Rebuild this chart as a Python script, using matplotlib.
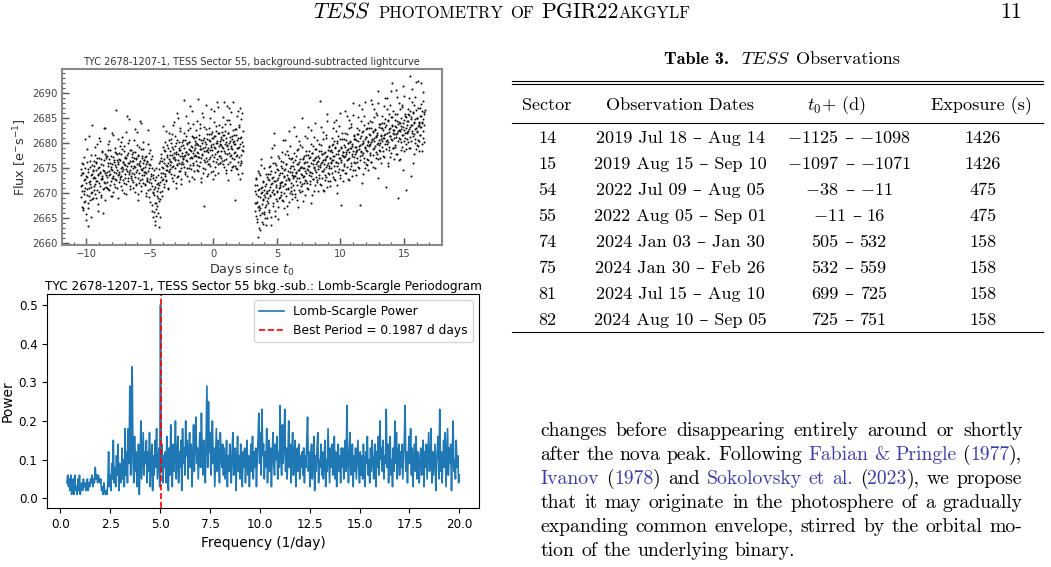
import re
import numpy as np
import matplotlib
matplotlib.use('Agg')
import matplotlib.pyplot as plt
import matplotlib.transforms as mtransforms
from matplotlib.lines import Line2D
from matplotlib.ticker import MultipleLocator

W, H = 1051, 567
plt.rcParams['mathtext.fontset'] = 'dejavusans'

### data ###

# lightcurve, flux - 2600 (e-/s), two orbits of sector 55
# each orbit is read as two interleaved sets (a, b), ~30 points per day each
flux_offset = 2600.0
lc1a_span = (-10.45, 2.30)
lc1a_flux = [
    71.4, 74.8, 67.2, 70.3, 73.9, 66.5, 75.7, 69.8, 72.6, 80.8, 68.4, 71.0, 64.6, 73.3, 76.1, 70.7, 67.9, 74.2, 63.4, 72.1, 69.3, 75.2, 71.8, 77.6, 70.0, 73.5, 68.8, 83.6, 74.6, 72.9,
    70.6, 76.3, 73.1, 79.2, 71.7, 74.5, 68.9, 75.9, 72.4, 77.0, 66.3, 73.7, 75.1, 70.2, 81.0, 74.0, 71.3, 76.8, 69.5, 73.0, 78.4, 72.8, 65.9, 75.5, 70.9, 74.3, 77.7, 72.0, 83.0, 73.6,
    76.9, 72.2, 74.1, 78.6, 70.8, 75.4, 73.5, 80.3, 71.6, 76.0, 74.7, 69.4, 77.3, 72.9, 75.8, 81.5, 73.3, 70.1, 76.5, 74.2, 78.1, 71.2, 75.1, 86.5, 72.6, 77.8, 74.5, 69.0, 76.2, 73.7,
    74.1, 77.9, 72.7, 76.6, 80.1, 73.4, 75.2, 70.6, 78.7, 74.8, 76.1, 71.9, 79.3, 75.6, 73.0, 77.2, 69.7, 76.9, 74.4, 85.4, 72.3, 78.0, 75.9, 73.8, 80.6, 71.4, 76.4, 74.6, 78.5, 72.9,
    76.3, 72.5, 78.2, 74.9, 70.9, 77.0, 75.4, 82.7, 73.2, 76.7, 71.6, 74.1, 79.5, 75.7, 68.6, 77.6, 73.9, 76.0, 72.0, 84.3, 75.3, 70.4, 78.8, 74.6, 77.3, 72.7, 75.0, 80.2, 73.5, 76.5,
    74.2, 77.1, 71.5, 75.8, 69.3, 73.0, 76.4, 72.3, 82.6, 70.6, 74.9, 78.0, 72.7, 68.2, 75.5, 71.9, 73.7, 66.4, 77.4, 70.1, 72.9, 65.1, 69.6, 74.5, 63.6, 71.2, 68.0, 75.0, 66.8, 70.4,
    67.3, 72.0, 69.0, 74.8, 63.2, 71.6, 76.3, 68.7, 73.2, 77.8, 70.3, 75.1, 72.6, 83.4, 74.0, 78.5, 71.1, 76.7, 73.8, 80.2, 75.6, 72.4, 77.2, 74.6, 79.6, 70.8, 76.0, 81.9, 74.3, 77.5,
    78.4, 74.7, 80.8, 76.2, 72.9, 79.1, 77.0, 83.5, 75.3, 78.0, 73.6, 76.8, 81.4, 77.7, 70.9, 79.9, 75.8, 86.0, 76.5, 73.3, 78.6, 80.2, 74.4, 77.3, 82.3, 75.0, 79.4, 71.8, 77.9, 76.1,
    76.9, 80.6, 75.2, 79.0, 88.6, 77.5, 73.7, 81.3, 78.2, 74.9, 79.7, 76.4, 84.0, 77.8, 72.4, 80.1, 78.6, 75.6, 82.9, 77.1, 79.4, 73.1, 86.3, 78.0, 75.9, 81.1, 77.4, 74.3, 80.4, 78.9,
    80.0, 76.4, 82.5, 78.1, 74.6, 79.5, 88.8, 77.2, 81.6, 75.3, 78.8, 83.7, 76.9, 72.1, 80.5, 77.6, 79.9, 74.0, 85.1, 78.3, 67.3, 81.0, 76.1, 79.2, 82.8, 77.0, 73.4, 80.7, 78.5, 75.8,
    78.2, 81.8, 75.7, 80.3, 77.1, 84.9, 79.6, 74.2, 82.2, 78.6, 76.3, 80.9, 72.8, 79.1, 86.4, 77.8, 81.3, 75.1, 79.9, 83.3, 76.7, 80.4, 73.9, 78.3, 87.1, 77.4, 82.0, 75.9, 79.7, 81.1,
    80.8, 77.0, 83.2, 79.1, 75.8, 81.5, 78.3, 88.1, 76.6, 82.4, 79.8, 74.5, 80.9, 77.7, 84.6, 79.3, 72.6, 81.9, 78.0, 86.9, 76.2, 80.4, 83.7, 77.5, 79.0, 75.1, 81.4, 78.7, 88.2, 80.1,
    78.0, 81.6, 75.4, 79.8, 68.6, 82.7, 77.3, 80.5, 74.7, 86.3, 78.9, 76.1, 83.5, 79.2, 72.8, 81.0, 77.6, 84.8, 75.9, 80.1, 86.0, 78.4,
]
lc1b_span = (-10.43, 2.32)
lc1b_flux = [
    73.6, 69.1, 75.9, 71.5, 66.9, 74.0, 70.4, 77.2, 68.1, 72.8, 75.0, 65.8, 71.9, 78.8, 69.6, 73.2, 67.0, 74.7, 70.9, 81.3, 72.3, 68.6, 76.4, 71.1, 65.2, 73.8, 70.2, 75.6, 69.0, 74.4,
    75.3, 71.4, 77.6, 73.0, 69.7, 76.2, 72.3, 79.8, 70.6, 74.9, 67.8, 73.5, 76.9, 71.9, 74.2, 80.3, 72.7, 69.1, 75.7, 73.3, 78.1, 70.8, 74.6, 82.9, 72.1, 76.5, 68.5, 74.0, 71.2, 77.3,
    73.2, 77.4, 71.0, 75.9, 79.7, 74.3, 70.5, 76.8, 73.7, 78.5, 72.4, 75.2, 81.9, 74.6, 69.3, 77.1, 73.0, 76.2, 71.7, 79.0, 75.5, 72.8, 77.9, 74.0, 70.9, 76.6, 80.8, 73.5, 75.8, 72.1,
    76.8, 73.1, 79.4, 75.0, 71.3, 77.7, 74.4, 81.1, 72.6, 76.2, 70.0, 75.7, 78.3, 73.8, 76.9, 82.2, 74.7, 71.8, 77.5, 75.3, 79.9, 72.9, 76.0, 84.8, 74.1, 78.6, 70.7, 75.4, 73.4, 77.2,
    74.0, 77.8, 72.2, 76.4, 80.6, 73.7, 70.2, 78.1, 75.1, 71.7, 76.9, 74.5, 82.1, 73.0, 77.4, 69.8, 75.6, 79.2, 72.6, 76.3, 74.8, 83.9, 71.3, 77.0, 73.5, 75.9, 78.7, 72.0, 76.6, 74.2,
    75.1, 71.8, 77.3, 73.9, 70.0, 76.2, 72.6, 79.8, 74.4, 69.2, 75.7, 72.1, 78.5, 70.8, 73.3, 76.8, 67.5, 74.9, 71.4, 69.9, 73.6, 66.2, 70.7, 64.4, 72.5, 67.9, 65.3, 73.1, 69.4, 71.7,
    70.9, 66.0, 73.5, 68.3, 75.9, 65.1, 72.2, 70.1, 77.0, 73.9, 69.4, 76.3, 72.8, 74.9, 79.2, 71.7, 76.0, 73.3, 78.4, 74.6, 82.3, 72.5, 77.6, 75.4, 71.0, 78.9, 74.1, 76.8, 80.6, 75.6,
    76.3, 79.9, 73.8, 77.6, 81.7, 75.2, 78.8, 72.4, 77.1, 84.2, 74.9, 79.3, 76.6, 71.9, 78.2, 75.5, 80.5, 73.2, 77.8, 85.0, 76.0, 79.0, 74.3, 78.5, 82.9, 75.8, 72.8, 77.4, 80.2, 76.7,
    79.5, 75.8, 81.9, 77.3, 74.1, 80.6, 78.1, 85.3, 76.5, 79.9, 73.3, 77.7, 82.6, 78.8, 75.0, 80.2, 76.9, 87.4, 78.4, 74.7, 81.4, 77.0, 79.1, 83.8, 75.6, 78.6, 72.7, 80.9, 77.5, 79.6,
    77.4, 81.2, 75.6, 79.7, 84.4, 78.0, 74.3, 80.8, 77.2, 82.9, 76.1, 79.3, 73.0, 78.7, 86.0, 77.8, 80.5, 75.0, 79.0, 83.2, 76.6, 80.1, 74.7, 78.3, 87.6, 79.8, 76.4, 81.7, 73.8, 78.9,
    80.6, 76.8, 83.0, 78.5, 75.3, 81.7, 79.2, 86.7, 77.6, 80.9, 74.4, 79.8, 84.1, 77.1, 81.3, 73.6, 78.9, 82.4, 76.2, 80.0, 88.2, 78.1, 75.7, 81.9, 79.4, 83.6, 77.3, 80.3, 76.0, 79.6,
    78.3, 82.1, 76.4, 80.6, 85.2, 79.0, 75.1, 81.5, 77.9, 83.7, 76.8, 80.2, 73.9, 79.6, 87.3, 78.7, 81.9, 75.8, 80.0, 84.6, 77.4, 81.1, 74.6, 79.3, 86.2, 80.7, 77.0, 82.5, 75.3, 79.8,
    80.4, 76.7, 82.8, 78.2, 74.9, 81.5, 77.6, 85.4, 79.0, 73.8, 80.9, 77.2, 83.1, 75.6, 79.7, 87.0, 76.3, 81.2, 78.5, 74.0, 82.4, 79.3,
]
lc2a_span = (3.25, 16.60)
lc2a_flux = [
    67.9, 71.6, 65.3, 69.8, 72.7, 64.7, 68.2, 61.1, 70.5, 66.6, 73.9, 67.4, 69.1, 62.6, 71.0, 76.8, 66.0, 70.2, 64.2, 68.7, 72.2, 65.7, 69.6, 74.9, 67.1, 71.3, 63.5, 70.0, 68.4, 73.1,
    70.4, 73.8, 68.0, 72.6, 66.1, 71.1, 75.4, 69.3, 74.3, 63.6, 71.9, 78.9, 70.6, 67.4, 73.2, 82.0, 69.8, 72.3, 65.4, 76.0, 71.5, 68.7, 74.7, 70.1, 64.8, 72.9, 77.4, 69.0, 73.5, 71.2,
    73.9, 70.2, 76.4, 72.1, 68.5, 75.0, 71.4, 80.5, 73.3, 66.9, 74.6, 77.7, 71.8, 69.4, 75.8, 72.5, 65.7, 78.4, 73.0, 70.8, 76.9, 72.8, 68.1, 74.2, 79.3, 71.1, 75.3, 73.6, 69.8, 77.0,
    72.9, 76.2, 70.6, 74.8, 83.1, 73.4, 69.2, 77.4, 74.1, 71.5, 78.6, 73.0, 75.7, 67.1, 74.5, 80.3, 72.2, 76.8, 70.1, 75.2, 73.7, 79.1, 71.8, 74.9, 68.4, 77.0, 73.3, 75.9, 81.4, 72.6,
    76.1, 72.4, 78.3, 74.7, 70.9, 77.5, 75.3, 83.2, 73.6, 76.9, 71.7, 74.2, 79.8, 75.9, 68.0, 77.9, 74.0, 76.6, 72.8, 81.2, 75.1, 70.4, 78.7, 74.5, 77.2, 73.1, 75.7, 80.5, 72.1, 76.4,
    74.8, 78.4, 73.0, 76.9, 88.3, 75.5, 71.6, 79.5, 76.2, 72.9, 77.7, 74.4, 82.1, 75.8, 70.3, 78.1, 76.6, 73.6, 80.9, 75.1, 77.4, 71.1, 84.4, 76.0, 73.9, 79.1, 75.4, 72.3, 78.4, 76.9,
    78.6, 74.9, 81.0, 76.6, 73.1, 79.7, 77.3, 84.1, 75.4, 78.9, 72.5, 76.1, 82.4, 77.7, 70.0, 80.3, 75.9, 78.4, 74.2, 83.3, 77.0, 72.9, 80.8, 76.5, 79.2, 67.5, 77.6, 82.0, 74.6, 78.2,
    77.1, 80.7, 75.3, 79.2, 86.3, 77.8, 73.9, 81.8, 78.5, 75.2, 80.0, 76.7, 84.5, 78.1, 72.6, 80.4, 78.9, 75.9, 83.2, 77.4, 79.7, 73.4, 85.6, 78.3, 76.2, 81.4, 77.7, 74.6, 80.7, 79.2,
    80.6, 76.9, 83.0, 78.6, 75.1, 81.7, 79.3, 87.6, 77.4, 80.9, 67.5, 78.1, 84.4, 79.7, 72.0, 82.3, 77.9, 80.4, 76.2, 85.3, 79.0, 74.9, 82.8, 78.5, 81.2, 75.5, 79.6, 84.0, 76.6, 80.2,
    79.4, 83.0, 77.6, 81.5, 88.6, 80.1, 76.2, 84.1, 80.8, 77.5, 82.3, 79.0, 86.8, 80.4, 74.9, 82.7, 81.2, 78.2, 85.5, 79.7, 82.0, 72.9, 87.9, 80.6, 78.5, 83.7, 80.0, 76.9, 83.0, 81.5,
    82.9, 79.2, 85.3, 80.9, 77.4, 84.0, 81.6, 89.0, 79.7, 83.2, 71.1, 80.4, 86.7, 82.0, 75.3, 84.6, 80.2, 82.7, 78.5, 87.6, 81.3, 77.2, 85.1, 80.8, 83.5, 91.9, 81.9, 86.3, 78.9, 82.5,
    81.0, 84.6, 79.2, 83.1, 90.6, 81.7, 77.8, 85.7, 82.4, 69.0, 84.2, 80.9, 88.0, 82.3, 76.8, 84.9, 83.4, 80.1, 87.2, 81.6, 83.9, 74.6, 89.3, 82.6, 80.4, 85.8, 82.0, 78.7, 85.1, 83.5,
    84.4, 80.7, 86.8, 82.4, 78.9, 85.5, 83.1, 93.3, 81.2, 84.7, 73.4, 81.9, 88.2, 83.5, 76.0, 86.1, 81.7, 84.2, 80.0, 89.1, 82.8, 78.7, 86.6, 82.3, 85.0, 79.3, 83.4, 92.3, 80.4, 84.0,
    83.2, 86.9, 81.5, 85.4, 91.9, 84.1, 78.4, 88.4, 84.7, 81.0, 86.2, 83.6,
]
lc2b_span = (3.27, 16.62)
lc2b_flux = [
    70.3, 66.4, 72.9, 68.0, 64.1, 71.5, 67.2, 74.3, 69.4, 62.9, 70.8, 66.9, 73.5, 65.5, 69.9, 75.6, 67.8, 71.2, 63.8, 68.5, 72.4, 66.1, 70.6, 64.9, 69.2, 73.8, 67.5, 71.7, 65.0, 70.0,
    72.8, 68.9, 75.2, 70.5, 66.6, 73.7, 69.5, 77.1, 71.8, 65.2, 73.0, 70.1, 76.0, 67.9, 72.3, 79.6, 69.7, 74.1, 66.3, 71.2, 75.5, 68.4, 72.6, 70.3, 67.1, 74.6, 71.0, 76.9, 69.2, 72.0,
    71.5, 75.3, 69.6, 73.9, 78.2, 72.2, 68.4, 76.1, 73.1, 70.0, 74.8, 71.8, 80.6, 70.7, 75.7, 67.4, 73.6, 77.5, 71.0, 74.3, 72.6, 82.3, 69.9, 75.0, 72.0, 76.7, 70.4, 74.1, 68.8, 73.4,
    75.4, 71.6, 77.9, 73.3, 69.8, 76.5, 74.0, 81.3, 72.4, 75.8, 68.6, 74.6, 78.8, 72.9, 76.1, 70.6, 74.9, 79.6, 71.3, 75.2, 73.6, 84.9, 70.4, 76.7, 73.1, 77.4, 71.9, 75.0, 69.5, 74.3,
    73.9, 77.6, 72.0, 76.2, 80.9, 74.6, 70.8, 78.3, 75.4, 72.3, 77.1, 74.2, 82.6, 73.3, 77.9, 69.6, 75.8, 79.4, 72.7, 76.6, 74.9, 84.0, 71.5, 76.9, 74.1, 78.8, 72.5, 76.1, 70.3, 75.4,
    77.3, 73.5, 79.8, 75.2, 71.7, 78.4, 76.0, 83.2, 74.3, 77.7, 70.6, 76.5, 80.7, 74.8, 78.0, 72.5, 76.8, 81.5, 73.2, 77.1, 75.5, 85.8, 72.3, 78.6, 75.0, 79.3, 73.8, 76.9, 71.4, 76.2,
    75.9, 79.6, 74.0, 78.2, 82.9, 76.6, 72.8, 80.3, 77.4, 74.3, 79.1, 76.2, 84.6, 75.3, 79.9, 71.6, 77.8, 81.4, 74.7, 78.6, 76.9, 86.0, 73.5, 78.9, 76.1, 80.8, 74.5, 78.1, 72.3, 77.4,
    79.5, 75.7, 82.0, 77.4, 73.9, 80.6, 78.2, 85.4, 76.5, 79.9, 72.8, 78.7, 82.9, 77.0, 80.2, 74.7, 79.0, 83.7, 75.4, 79.3, 77.7, 88.0, 74.5, 80.8, 77.2, 81.5, 76.0, 79.1, 73.6, 78.4,
    78.1, 81.8, 76.2, 80.4, 85.1, 78.8, 75.0, 82.5, 79.6, 76.5, 81.3, 78.4, 86.8, 77.5, 82.1, 73.8, 80.0, 83.6, 76.9, 80.8, 79.1, 88.2, 75.7, 81.1, 78.3, 83.0, 76.7, 80.3, 74.5, 79.6,
    81.8, 78.0, 84.3, 79.7, 76.2, 82.9, 80.5, 87.7, 78.8, 82.2, 75.1, 81.0, 85.2, 79.3, 82.5, 77.0, 81.3, 86.0, 77.7, 81.6, 80.0, 90.3, 76.8, 83.1, 79.5, 83.8, 78.3, 81.4, 75.9, 80.7,
    80.3, 84.0, 78.4, 82.6, 87.3, 81.0, 77.2, 84.7, 81.8, 78.7, 83.5, 80.6, 89.0, 79.7, 84.3, 76.0, 82.2, 85.8, 79.1, 83.0, 81.3, 90.4, 77.9, 83.3, 80.5, 85.2, 78.9, 82.5, 76.7, 81.8,
    83.3, 79.5, 85.8, 81.2, 77.7, 84.4, 82.0, 89.2, 80.3, 83.7, 76.6, 82.5, 86.7, 80.8, 84.0, 78.5, 82.8, 87.5, 79.2, 83.1, 81.5, 91.4, 78.3, 84.6, 81.0, 85.3, 79.8, 82.9, 70.5, 82.2,
    82.0, 85.7, 80.1, 84.3, 89.0, 82.7, 78.9, 86.4, 83.5, 80.4, 85.2, 82.3, 90.7, 81.4, 86.0, 77.7, 83.9, 87.6, 80.8, 84.7, 83.0, 92.2, 79.6, 85.0, 82.2, 86.9, 80.6, 84.1, 78.4, 83.6,
    85.3, 81.5, 87.8, 83.2, 79.7, 86.4, 84.0, 90.1, 82.3, 85.7, 80.2, 86.5,
]

# Lomb-Scargle power (x100) on an even frequency grid
freq_range = (0.33, 20.0)
power_pct = [
    4, 6, 3, 5, 2, 6, 1, 4, 5, 1, 6, 2, 3, 1, 5, 2, 6, 1, 3, 4, 2, 5, 3, 4, 2,
    3, 5, 2, 4, 3, 5, 4, 6, 3, 5, 4, 8, 5, 6, 4, 6, 5, 4, 5, 2, 3, 1, 4, 2, 1,
    2, 1, 4, 12, 3, 6, 2, 9, 5, 15, 4, 8, 3, 11, 6, 14, 2, 9, 7, 4, 13, 5, 10, 3, 18,
    6, 12, 4, 18, 9, 29, 6, 13, 34, 10, 4, 16, 7, 12, 3, 9, 14, 1, 8, 20, 5, 11, 17, 6, 12,
    9, 15, 4, 12, 7, 17, 3, 10, 14, 2, 11, 6, 15, 8, 18, 5, 9, 13, 3, 50, 7, 14, 4, 11, 8,
    12, 4, 16, 8, 2, 13, 6, 19, 9, 3, 14, 7, 11, 20, 5, 10, 16, 4, 12, 8, 15, 2, 18, 9, 13,
    6, 20, 11, 15, 5, 12, 17, 8, 14, 3, 10, 19, 7, 16, 21, 9, 13, 5, 11, 17, 8, 22, 12, 6, 15,
    10, 4, 16, 29, 8, 25, 12, 17, 6, 14, 20, 9, 13, 3, 11, 18, 7, 15, 10, 4, 17, 12, 8, 14, 6,
    13, 5, 9, 15, 3, 11, 7, 14, 10, 4, 12, 17, 6, 9, 13, 2, 10, 16, 7, 11, 5, 14, 8, 3, 12,
    8, 13, 4, 10, 15, 6, 11, 3, 9, 14, 7, 16, 5, 12, 8, 13, 3, 10, 15, 22, 9, 17, 6, 23, 11,
    14, 5, 12, 8, 18, 4, 10, 15, 7, 13, 3, 11, 17, 9, 6, 14, 10, 16, 5, 12, 8, 24, 11, 6, 19,
    9, 15, 23, 7, 13, 5, 11, 20, 8, 14, 4, 12, 17, 6, 10, 15, 3, 9, 13, 7, 14, 5, 11, 8, 12,
    6, 13, 4, 11, 8, 15, 21, 7, 12, 3, 10, 14, 5, 9, 16, 2, 11, 7, 13, 17, 4, 10, 8, 14, 6,
    12, 5, 9, 15, 3, 10, 7, 18, 11, 4, 13, 8, 14, 6, 10, 16, 5, 12, 3, 9, 14, 7, 11, 4, 13,
    8, 13, 5, 11, 15, 7, 24, 10, 4, 12, 17, 6, 9, 14, 3, 11, 7, 13, 5, 10, 15, 8, 4, 12, 6,
    11, 5, 14, 8, 3, 12, 9, 16, 6, 10, 4, 13, 7, 15, 11, 5, 9, 14, 3, 12, 8, 16, 6, 20, 10,
    13, 7, 15, 5, 11, 9, 23, 8, 14, 4, 12, 16, 6, 10, 3, 13, 7, 20, 9, 17, 5, 11, 14, 6, 12,
    8, 14, 5, 10, 15, 24, 7, 12, 4, 11, 16, 9, 18, 6, 13, 3, 10, 14, 7, 16, 5, 12, 9, 4, 11,
    13, 6, 10, 15, 3, 12, 8, 14, 5, 11, 17, 7, 9, 18, 4, 12, 6, 10, 14, 2, 9, 13, 16, 5, 23,
    7, 12, 4, 10, 15, 8, 17, 3, 11, 18, 6, 13, 9, 14, 2, 12, 20, 7, 10, 5, 15, 8, 11, 4, 6,
]
best_period = 0.1987

# Table 3
tab_head = ['Sector', 'Observation Dates', '$t_0$+ (d)', 'Exposure (s)']
sectors = ['14', '15', '54', '55', '74', '75', '81', '82']
obs_dates = ['2019 Jul 18 – Aug 14', '2019 Aug 15 – Sep 10', '2022 Jul 09 – Aug 05',
             '2022 Aug 05 – Sep 01', '2024 Jan 03 – Jan 30', '2024 Jan 30 – Feb 26',
             '2024 Jul 15 – Aug 10', '2024 Aug 10 – Sep 05']
t0_start = [-1125, -1097, -38, -11, 505, 532, 699, 725]
t0_end = [-1098, -1071, -11, 16, 532, 559, 725, 751]
exposures = ['1426', '1426', '475', '475', '158', '158', '158', '158']

# body text, {...} = link colour
body_lines = [
    'changes before disappearing entirely around or shortly',
    'after the nova peak. Following {Fabian} {&} {Pringle} ({1977}),',
    '{Ivanov} ({1978}) and {Sokolovsky} {et} {al.} ({2023}), we propose',
    'that it may originate in the photosphere of a gradually',
    'expanding common envelope, stirred by the orbital mo-',
    'tion of the underlying binary.',
]

### figure ###

fig = plt.figure(figsize=(W / 100, H / 100), dpi=100)
renderer = fig.canvas.get_renderer()
ident = mtransforms.IdentityTransform()
SERIF = dict(family=['cmr10', 'DejaVu Serif'], math_fontfamily='cm')
LINK = '#3d3da8'


def box(l, t, r, b):
    return [l / W, 1 - b / H, (r - l) / W, (b - t) / H]


def px(x, y, s, **kw):
    return fig.text(x, H - y, s, transform=ident, **kw)


def wid(t):
    return t.get_window_extent(renderer).width


def run(x, y, pieces, center=False):
    # pieces: (text, kwargs) or (None, gap in px)
    arts, cx = [], x
    for s, kw in pieces:
        if s is None:
            cx += kw
            continue
        t = px(cx, y, s, va='baseline', ha='left', **kw)
        cx += wid(t)
        arts.append(t)
    if center:
        shift = (cx - x) / 2
        for t in arts:
            t.set_x(t.get_position()[0] - shift)
    return cx


def space(size):
    return 0.333 * size * 100 / 72


# ---- lightcurve ----
ax1 = fig.add_axes(box(61.7, 69, 441.7, 245))
for span, flux in ((lc1a_span, lc1a_flux), (lc1b_span, lc1b_flux),
                   (lc2a_span, lc2a_flux), (lc2b_span, lc2b_flux)):
    tt = np.linspace(span[0], span[1], len(flux))
    ax1.scatter(tt, np.array(flux) + flux_offset, s=2.2, c='#111111', linewidths=0)
ax1.set_xlim(-11.95, 17.97)
ax1.set_ylim(2659.5, 2694.8)
ax1.xaxis.set_major_locator(MultipleLocator(5))
ax1.xaxis.set_minor_locator(MultipleLocator(1))
ax1.yaxis.set_major_locator(MultipleLocator(5))
ax1.yaxis.set_minor_locator(MultipleLocator(1))
ax1.tick_params(which='both', direction='in', color='#555555', labelcolor='#444444',
                labelsize=7.2, pad=3, top=False, right=False)
ax1.tick_params(which='major', length=5, width=1)
ax1.tick_params(which='minor', length=2.5, width=0.8)
for sp in ax1.spines.values():
    sp.set_color('#8a8a8a')
    sp.set_linewidth(1.5)
ax1.set_title('TYC 2678-1207-1, TESS Sector 55, background-subtracted lightcurve',
              fontsize=7.0, color='#333333', pad=3)
ax1.set_xlabel('Days since $t_0$', fontsize=9.2, color='#333333', labelpad=1)
ax1.set_ylabel('Flux [e$^{-}$s$^{-1}$]', fontsize=9.2, color='#333333', labelpad=2)

# ---- periodogram ----
ax2 = fig.add_axes(box(47.3, 294, 479, 508))
freq = np.linspace(freq_range[0], freq_range[1], len(power_pct))
ax2.plot(freq, np.array(power_pct) / 100.0, color='tab:blue', lw=1.2,
         label='Lomb-Scargle Power')
ax2.axvline(1.0 / best_period, color='r', ls='--', lw=1.2,
            label='Best Period = %.4f d days' % best_period)
ax2.set_ylim(-0.025, 0.528)
ax2.set_xticks(np.arange(0, 20.1, 2.5))
ax2.tick_params(labelsize=8.6)
ax2.set_title('TYC 2678-1207-1, TESS Sector 55 bkg.-sub.: Lomb-Scargle Periodogram',
              fontsize=8.7, pad=3)
ax2.set_xlabel('Frequency (1/day)', fontsize=9.9)
ax2.set_ylabel('Power', fontsize=9.9, labelpad=3)
ax2.legend(loc='upper right', fontsize=8.8)

# ---- running head ----
hs, sc = 15.6, 12.0
run(313, 18, [('$TESS$', dict(fontsize=hs, **SERIF)), (None, space(hs)),
              ('PHOTOMETRY', dict(fontsize=sc, **SERIF)), (None, space(hs)),
              ('OF', dict(fontsize=sc, **SERIF)), (None, space(hs)),
              ('PGIR22', dict(fontsize=hs, **SERIF)),
              ('AKGYLF', dict(fontsize=sc, **SERIF))])
px(1022, 18, '11', ha='right', va='baseline', fontsize=hs, **SERIF)

# ---- table ----
ts = 13.1
run(782, 64, [('Table 3.', dict(fontsize=ts, family='cmb10')), (None, 2 * space(ts)),
              ('$TESS$', dict(fontsize=ts, **SERIF)), (None, space(ts)),
              ('Observations', dict(fontsize=ts, **SERIF))], center=True)

for y in (80.5, 84.0, 123.0, 331.5):
    fig.add_artist(Line2D([512, 1043], [H - y, H - y], transform=ident, color='k', lw=0.8))

head_x = [547, 680, 836, 981.7]
col_x = [547, 680, 849, 982.5]
for x, s in zip(head_x, tab_head):
    px(x, 110, s, ha='center', va='baseline', fontsize=ts, **SERIF)
for i in range(len(sectors)):
    y = 142.7 + 26.0 * i
    px(col_x[0], y, sectors[i], ha='center', va='baseline', fontsize=ts, **SERIF)
    px(col_x[1], y, obs_dates[i], ha='center', va='baseline', fontsize=ts, **SERIF)
    a = '$%d$' % t0_start[i] if t0_start[i] < 0 else str(t0_start[i])
    b = '$%d$' % t0_end[i] if t0_end[i] < 0 else str(t0_end[i])
    run(col_x[2], y, [(a, dict(fontsize=ts, **SERIF)), (None, space(ts)),
                      ('–', dict(fontsize=ts, **SERIF)), (None, space(ts)),
                      (b, dict(fontsize=ts, **SERIF))], center=True)
    px(col_x[3], y, exposures[i], ha='center', va='baseline', fontsize=ts, **SERIF)

# ---- body text, justified ----
bs = 14.2
left, right = 540.7, 1022.3
for k, line in enumerate(body_lines):
    y = 435.5 + 24.2 * k
    words = []
    for w in line.split(' '):
        pieces = []
        for p in re.split(r'(\{[^}]*\})', w):
            if not p:
                continue
            if p.startswith('{'):
                pieces.append((p[1:-1], LINK))
            else:
                pieces.append((p, 'black'))
        words.append(pieces)
    # measure
    widths = []
    for pieces in words:
        tw = 0
        for s, c in pieces:
            t = px(0, 0, s, fontsize=bs, **SERIF)
            tw += wid(t)
            t.remove()
        widths.append(tw)
    if k < len(body_lines) - 1:
        gap = (right - left - sum(widths)) / (len(words) - 1)
    else:
        gap = space(bs)
    x = left
    for pieces, tw in zip(words, widths):
        cx = x
        for s, c in pieces:
            t = px(cx, y, s, va='baseline', ha='left', fontsize=bs, color=c, **SERIF)
            cx += wid(t)
        x += tw + gap

fig.savefig('out.png', dpi=100)
